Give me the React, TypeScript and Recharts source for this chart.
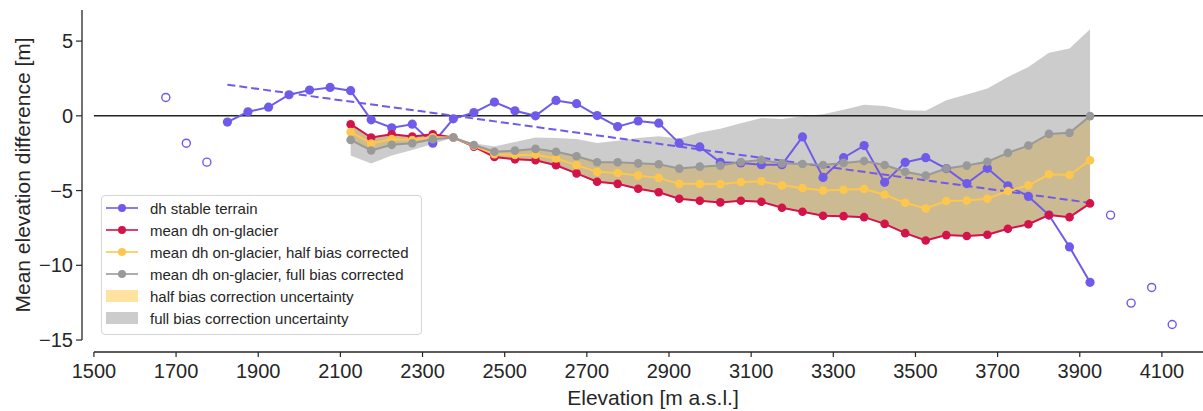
import { Area, ComposedChart, Label, Legend, Line, ReferenceLine, XAxis, YAxis } from "recharts";

const FONT = '"Liberation Sans", Arial, sans-serif';
const INK = "#262626";
const BLUE = "#6f5be9";
const RED = "#d4134a";
const YELLOW = "#fdc74e";
const GREY = "#999999";
const HALF_FILL = "#ffe2a0";
const FULL_FILL = "#808080";

// dh over stable terrain (bins with enough pixels)
const stableElev = [
  1825, 1875, 1925, 1975, 2025, 2075, 2125, 2175, 2225, 2275, 2325, 2375, 2425, 2475, 2525, 2575, 2625, 2675,
  2725, 2775, 2825, 2875, 2925, 2975, 3025, 3075, 3125, 3175, 3225, 3275, 3325, 3375, 3425, 3475, 3525, 3575,
  3625, 3675, 3725, 3775, 3825, 3875, 3925,
];
const stableDh = [
  -0.42, 0.27, 0.58, 1.41, 1.72, 1.9, 1.68, -0.27, -0.8, -0.56, -1.83, -0.2, 0.22, 0.92, 0.34, 0.0, 1.03, 0.81,
  0.02, -0.72, -0.34, -0.49, -1.83, -2.08, -3.11, -3.15, -3.27, -3.27, -1.41, -4.12, -2.8, -1.99, -4.45, -3.11,
  -2.8, -3.53, -4.53, -3.51, -4.68, -5.39, -6.64, -8.77, -11.14,
];

// stable terrain bins left out (too few pixels)
const outlierElev = [1675, 1725, 1775, 3975, 4025, 4075, 4125];
const outlierDh = [1.23, -1.83, -3.1, -6.64, -12.53, -11.48, -13.96];

// linear fit through stable terrain
const trendElev = [1825, 3925];
const trendDh = [2.08, -5.82];

const glacierElev = [
  2125, 2175, 2225, 2275, 2325, 2375, 2425, 2475, 2525, 2575, 2625, 2675, 2725, 2775, 2825, 2875, 2925, 2975,
  3025, 3075, 3125, 3175, 3225, 3275, 3325, 3375, 3425, 3475, 3525, 3575, 3625, 3675, 3725, 3775, 3825, 3875,
  3925,
];
const meanDh = [
  -0.56, -1.45, -1.23, -1.38, -1.23, -1.45, -2.06, -2.75, -2.91, -2.97, -3.31, -3.85, -4.41, -4.55, -4.88, -5.11,
  -5.55, -5.68, -5.79, -5.68, -5.75, -6.15, -6.42, -6.69, -6.71, -6.78, -7.23, -7.85, -8.34, -7.98, -8.04, -7.96,
  -7.56, -7.25, -6.64, -6.78, -5.86,
];
const halfCorrDh = [
  -1.09, -1.85, -1.56, -1.62, -1.43, -1.45, -2.0, -2.57, -2.62, -2.6, -2.85, -3.3, -3.75, -3.82, -4.0, -4.15,
  -4.55, -4.55, -4.57, -4.43, -4.38, -4.65, -4.83, -4.99, -4.95, -4.9, -5.28, -5.82, -6.2, -5.7, -5.67, -5.55,
  -5.03, -4.65, -3.91, -3.96, -2.97,
];
const fullCorrDh = [
  -1.61, -2.32, -1.94, -1.83, -1.56, -1.45, -1.95, -2.4, -2.33, -2.21, -2.4, -2.7, -3.11, -3.11, -3.18, -3.24,
  -3.53, -3.4, -3.33, -3.09, -2.95, -3.18, -3.22, -3.29, -3.15, -3.02, -3.29, -3.74, -4.0, -3.52, -3.33, -3.07,
  -2.48, -1.99, -1.21, -1.14, -0.02,
];
// outer edge of the full bias correction uncertainty band
const fullBandEdge = [
  -2.66, -3.19, -2.65, -2.28, -1.89, -1.45, -1.84, -2.05, -1.75, -1.45, -1.49, -1.55, -1.81, -1.67, -1.48, -1.37,
  -1.51, -1.12, -0.87, -0.5, -0.15, -0.21, -0.02, 0.11, 0.41, 0.74, 0.65, 0.37, 0.34, 1.05, 1.42, 1.82, 2.6,
  3.27, 4.22, 4.5, 5.8,
];

const xTicks = [1500, 1700, 1900, 2100, 2300, 2500, 2700, 2900, 3100, 3300, 3500, 3700, 3900, 4100];
const yTicks = [-15, -10, -5, 0, 5];

const X_DOMAIN: [number, number] = [1471, 4200];
const Y_DOMAIN: [number, number] = [-15.8, 7.08];

type Row = {
  elev: number;
  stable?: number;
  outlier?: number;
  trend?: number;
  mean?: number;
  half?: number;
  full?: number;
  halfBand?: [number, number];
  fullBand?: [number, number];
};

function buildRows(): Row[] {
  const rows = new Map<number, Row>();
  const row = (e: number) => {
    let r = rows.get(e);
    if (!r) {
      r = { elev: e };
      rows.set(e, r);
    }
    return r;
  };
  stableElev.forEach((e, i) => (row(e).stable = stableDh[i]));
  outlierElev.forEach((e, i) => (row(e).outlier = outlierDh[i]));
  trendElev.forEach((e, i) => (row(e).trend = trendDh[i]));
  glacierElev.forEach((e, i) => {
    const r = row(e);
    r.mean = meanDh[i];
    r.half = halfCorrDh[i];
    r.full = fullCorrDh[i];
    r.halfBand = [meanDh[i], fullCorrDh[i]];
    r.fullBand = [meanDh[i], fullBandEdge[i]];
  });
  return [...rows.values()].sort((a, b) => a.elev - b.elev);
}

const data = buildRows();

const legendItems = [
  { label: "dh stable terrain", color: BLUE, kind: "line" },
  { label: "mean dh on-glacier", color: RED, kind: "line" },
  { label: "mean dh on-glacier, half bias corrected", color: YELLOW, kind: "line" },
  { label: "mean dh on-glacier, full bias corrected", color: GREY, kind: "line" },
  { label: "half bias correction uncertainty", color: HALF_FILL, kind: "patch" },
  { label: "full bias correction uncertainty", color: "#cccccc", kind: "patch" },
];

function LegendBox() {
  return (
    <div
      style={{
        width: 321,
        boxSizing: "border-box",
        border: "1px solid #d4d4d4",
        borderRadius: 4,
        background: "#fff",
        padding: "1px 0 5px 0",
        fontFamily: FONT,
        fontSize: 15,
        color: INK,
      }}
    >
      {legendItems.map((it) => (
        <div key={it.label} style={{ display: "flex", alignItems: "center", height: 22 }}>
          <svg width={48} height={22} style={{ flex: "none" }}>
            {it.kind === "line" ? (
              <>
                <line x1={4} x2={36} y1={11} y2={11} stroke={it.color} strokeWidth={1.6} />
                <circle cx={20} cy={11} r={4} fill={it.color} />
              </>
            ) : (
              <rect x={4} y={5} width={32} height={12} fill={it.color} />
            )}
          </svg>
          <span style={{ whiteSpace: "nowrap" }}>{it.label}</span>
        </div>
      ))}
    </div>
  );
}

function XTick(props: any) {
  const { x, y, payload } = props;
  return (
    <text x={x} y={y} dy="0.71em" textAnchor="middle" fontSize={20} fontFamily={FONT} fill={INK}>
      {payload.value}
    </text>
  );
}

function YTitle() {
  return (
    <text
      transform="translate(22,175) rotate(-90)"
      textAnchor="middle"
      dominantBaseline="central"
      fontSize={21}
      fontFamily={FONT}
      fill={INK}
    >
      Mean elevation difference [m]
    </text>
  );
}

function XTitle() {
  return (
    <text x={653} y={397} textAnchor="middle" dominantBaseline="central" fontSize={21} fontFamily={FONT} fill={INK}>
      Elevation [m a.s.l.]
    </text>
  );
}

export default function App() {
  return (
    <div style={{ position: "absolute", left: 0, top: 0, background: "#fff" }}>
      <ComposedChart width={1203} height={411} data={data} margin={{ top: 10, right: 0, bottom: 0, left: 0 }}>
        <XAxis
          dataKey="elev"
          type="number"
          domain={X_DOMAIN}
          ticks={xTicks}
          allowDataOverflow
          axisLine={false}
          tickLine={{ stroke: INK, strokeWidth: 1.2 }}
          tickSize={5}
          tickMargin={7}
          tick={XTick}
          height={59}
        >
          <Label content={XTitle} />
        </XAxis>
        <YAxis
          type="number"
          domain={Y_DOMAIN}
          ticks={yTicks}
          allowDataOverflow
          axisLine={false}
          tickLine={{ stroke: INK, strokeWidth: 1.2 }}
          tickSize={6}
          tickMargin={3}
          tick={{ fontSize: 20, fill: INK, fontFamily: FONT }}
          tickFormatter={(v: number) => String(v).replace("-", "\u2212")}
          width={82}
        >
          <Label content={YTitle} />
        </YAxis>

        <ReferenceLine
          segment={[
            { x: 1500, y: 0 },
            { x: 4200, y: 0 },
          ]}
          stroke="#222"
          strokeWidth={1.5}
        />

        <Area
          type="linear"
          dataKey="halfBand"
          fill={HALF_FILL}
          fillOpacity={1}
          stroke="none"
          dot={false}
          activeDot={false}
          isAnimationActive={false}
        />
        <Area
          type="linear"
          dataKey="fullBand"
          fill={FULL_FILL}
          fillOpacity={0.4}
          stroke="none"
          dot={false}
          activeDot={false}
          isAnimationActive={false}
        />

        <Line
          type="linear"
          dataKey="trend"
          stroke={BLUE}
          strokeWidth={2}
          strokeDasharray="8 4"
          dot={false}
          activeDot={false}
          connectNulls
          isAnimationActive={false}
        />
        <Line
          type="linear"
          dataKey="stable"
          stroke={BLUE}
          strokeWidth={2}
          dot={{ r: 4.6, fill: BLUE, stroke: BLUE, strokeWidth: 0 }}
          activeDot={false}
          isAnimationActive={false}
        />
        <Line
          type="linear"
          dataKey="outlier"
          stroke="none"
          dot={{ r: 4, fill: "#fff", stroke: BLUE, strokeWidth: 1.4 }}
          activeDot={false}
          isAnimationActive={false}
        />
        <Line
          type="linear"
          dataKey="mean"
          stroke={RED}
          strokeWidth={2}
          dot={{ r: 4.3, fill: RED, stroke: RED, strokeWidth: 0 }}
          activeDot={false}
          isAnimationActive={false}
        />
        <Line
          type="linear"
          dataKey="half"
          stroke={YELLOW}
          strokeWidth={2}
          dot={{ r: 4.3, fill: YELLOW, stroke: YELLOW, strokeWidth: 0 }}
          activeDot={false}
          isAnimationActive={false}
        />
        <Line
          type="linear"
          dataKey="full"
          stroke={GREY}
          strokeWidth={2}
          dot={{ r: 4.3, fill: GREY, stroke: GREY, strokeWidth: 0 }}
          activeDot={false}
          isAnimationActive={false}
        />

        <ReferenceLine
          segment={[
            { x: 1471, y: 7.08 },
            { x: 1471, y: -15 },
          ]}
          stroke={INK}
          strokeWidth={1.3}
        />
        <ReferenceLine
          segment={[
            { x: 1500, y: -15.8 },
            { x: 4200, y: -15.8 },
          ]}
          stroke={INK}
          strokeWidth={1.3}
        />

        <Legend
          layout="vertical"
          align="center"
          verticalAlign="middle"
          content={LegendBox}
          wrapperStyle={{ left: 101, top: 195, width: 321, height: 138 }}
        />
      </ComposedChart>
    </div>
  );
}
